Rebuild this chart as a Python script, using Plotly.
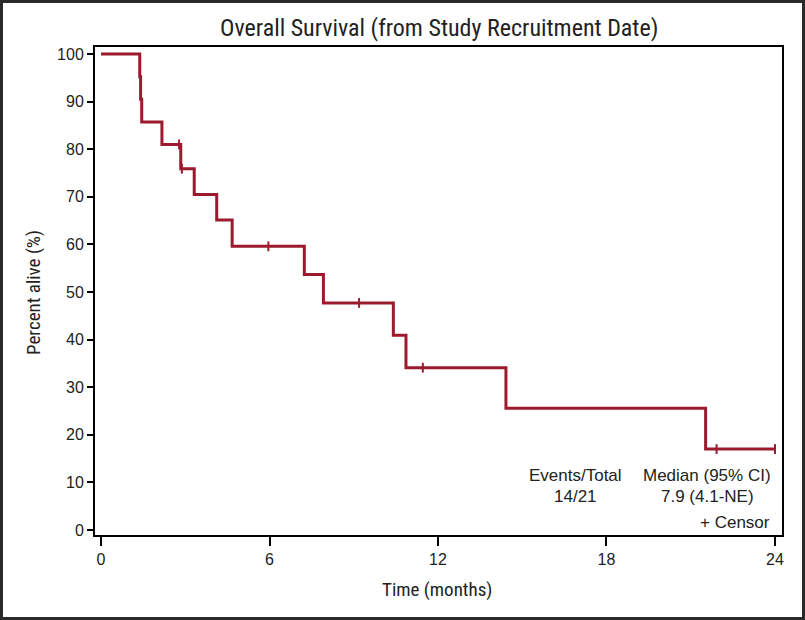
import plotly.graph_objects as go

# Kaplan-Meier step curve
step_times = [0, 1.38, 1.41, 1.45, 2.17, 2.84, 3.32, 4.12, 4.67, 7.24, 7.92, 10.41, 10.86, 14.42, 21.53, 24.0]
survival_pct = [100, 95.2, 90.5, 85.7, 81.0, 75.9, 70.5, 65.1, 59.6, 53.7, 47.7, 40.9, 34.1, 25.6, 17.0, 17.0]

censor_times = [2.78, 2.88, 5.96, 9.19, 11.46, 21.92, 24.0]
censor_pct = [81.0, 75.9, 59.6, 47.7, 34.1, 17.0, 17.0]

x_ticks = [0, 6, 12, 18, 24]
y_ticks = [0, 10, 20, 30, 40, 50, 60, 70, 80, 90, 100]

title_text = "Overall Survival (from Study Recruitment Date)"
x_title = "Time (months)"
y_title = "Percent alive (%)"
events_label = "Events/Total"
events_value = "14/21"
median_label = "Median (95% CI)"
median_value = "7.9 (4.1-NE)"
censor_label = "+ Censor"

RED = "#9c1a2e"
NARROW = "Liberation Sans Narrow, Arial Narrow, Roboto Condensed, Liberation Sans, Arial, sans-serif"
REG = "Liberation Sans, Arial, Helvetica, sans-serif"

W, H = 805, 620
L, R, T, B = 95, 23, 47, 85
PW, PH = W - L - R, H - T - B

fig = go.Figure()
fig.add_trace(go.Scatter(
    x=step_times, y=survival_pct, mode="lines", line=dict(shape="hv", color=RED, width=3),
    hoverinfo="skip", showlegend=False))
fig.add_trace(go.Scatter(
    x=censor_times, y=censor_pct, mode="markers",
    marker=dict(symbol="line-ns", size=7, line=dict(color=RED, width=2)),
    hoverinfo="skip", showlegend=False))

fig.update_layout(
    width=W, height=H,
    margin=dict(l=L, r=R, t=T, b=B, autoexpand=False),
    paper_bgcolor="white", plot_bgcolor="white",
    font=dict(family=REG, size=16, color="#222222"),
    xaxis=dict(range=[-0.2137, 24.25], tickvals=x_ticks, ticktext=[str(v) for v in x_ticks],
               showgrid=False, zeroline=False, showline=True, linecolor="black", linewidth=2,
               mirror=True, ticks="outside", ticklen=9, tickwidth=1.5, tickcolor="black",
               tickfont=dict(size=16, family=REG, color="#222222")),
    yaxis=dict(range=[-1.05, 101.47], tickvals=y_ticks, ticktext=[str(v) for v in y_ticks],
               showgrid=False, zeroline=False, showline=True, linecolor="black", linewidth=2,
               mirror=True, ticks="outside", ticklen=6, tickwidth=1.5, tickcolor="black",
               tickfont=dict(size=16, family=REG, color="#222222")),
)

def ann(text, x, y, size, family=REG, xanchor="center", angle=0):
    fig.add_annotation(text=text, xref="paper", yref="paper",
                       x=(x - L) / PW, y=1 - (y - T) / PH, xanchor=xanchor, yanchor="middle",
                       showarrow=False, textangle=angle,
                       font=dict(size=size, family=family, color="#222222"))

ann(title_text, 438.5, 28, 24, NARROW)
ann(x_title, 437, 589, 19, NARROW)
ann(y_title, 33, 292, 19, NARROW, angle=-90)
ann(events_label, 575, 475, 17)
ann(events_value, 575, 496, 17)
ann(median_label, 707, 475, 17)
ann(median_value, 707, 496, 17)
ann(censor_label, 772, 522, 17, xanchor="right")

# outer frame around the whole figure
fig.add_shape(type="rect", xref="paper", yref="paper",
              x0=(-L + 1.5) / PW, x1=(PW + R - 1.5) / PW,
              y0=(-B + 1.5) / PH, y1=(PH + T - 1.5) / PH,
              line=dict(color="#2a2a2a", width=3), fillcolor="rgba(0,0,0,0)", layer="above")

fig.write_html("out.html", config={"displayModeBar": False},
               post_script="document.body.style.margin='0';document.body.style.padding='0';")
